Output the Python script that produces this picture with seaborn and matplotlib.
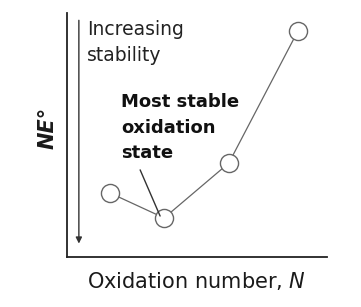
import matplotlib
matplotlib.use("Agg")
import matplotlib.pyplot as plt
import seaborn as sns
import pandas as pd

# Data
oxidation_number = [1.0, 2.0, 3.2, 4.48]
ne_values = [2.62, 1.6, 3.85, 9.26]

sns.set_theme(style="white")
plt.rcParams['font.family'] = ['DejaVu Sans']
plt.rcParams['mathtext.fontset'] = 'dejavusans'

df = pd.DataFrame({"N": oxidation_number, "NE": ne_values})

fig = plt.figure(figsize=(3.61, 3.07), dpi=100)
ax = fig.add_axes([67/361, 50/307, 260/361, 244/307])

sns.lineplot(data=df, x="N", y="NE", ax=ax, color="#666666", linewidth=0.9, sort=False)
sns.scatterplot(data=df, x="N", y="NE", ax=ax, s=170, facecolor="white",
                edgecolor="#666666", linewidth=1.0, zorder=3)

ax.set_xlim(0.2, 5.02)
ax.set_ylim(0, 10)
ax.set_xticks([])
ax.set_yticks([])
for side in ["top", "right"]:
    ax.spines[side].set_visible(False)
for side in ["left", "bottom"]:
    ax.spines[side].set_color("#222222")
    ax.spines[side].set_linewidth(1.3)

ax.set_xlabel("Oxidation number, $\\mathit{N}$", fontsize=15, color="#1a1a1a", labelpad=9)
ax.set_ylabel("NE°", fontsize=15, color="#1a1a1a",
              fontweight="bold", fontstyle="italic")
ax.yaxis.set_label_coords(-0.035, 0.53)

# Arrow of increasing stability
ax.annotate("", xy=(0.42, 0.55), xytext=(0.42, 9.7),
            arrowprops=dict(arrowstyle="-|>", color="#333333", lw=1.0,
                            mutation_scale=9, shrinkA=0, shrinkB=0))
ax.text(0.57, 9.72, "Increasing\nstability", fontsize=13.5, color="#222222",
        va="top", ha="left", linespacing=1.45)

ax.text(1.2, 6.72, "Most stable\noxidation\nstate", fontsize=13, fontweight="bold",
        color="#111111", va="top", ha="left", linespacing=1.55)
ax.annotate("", xy=(1.926, 1.68), xytext=(1.556, 3.57),
            arrowprops=dict(arrowstyle="-", color="#333333", lw=1.0,
                            shrinkA=0, shrinkB=0))

fig.savefig("out.png", dpi=100)
